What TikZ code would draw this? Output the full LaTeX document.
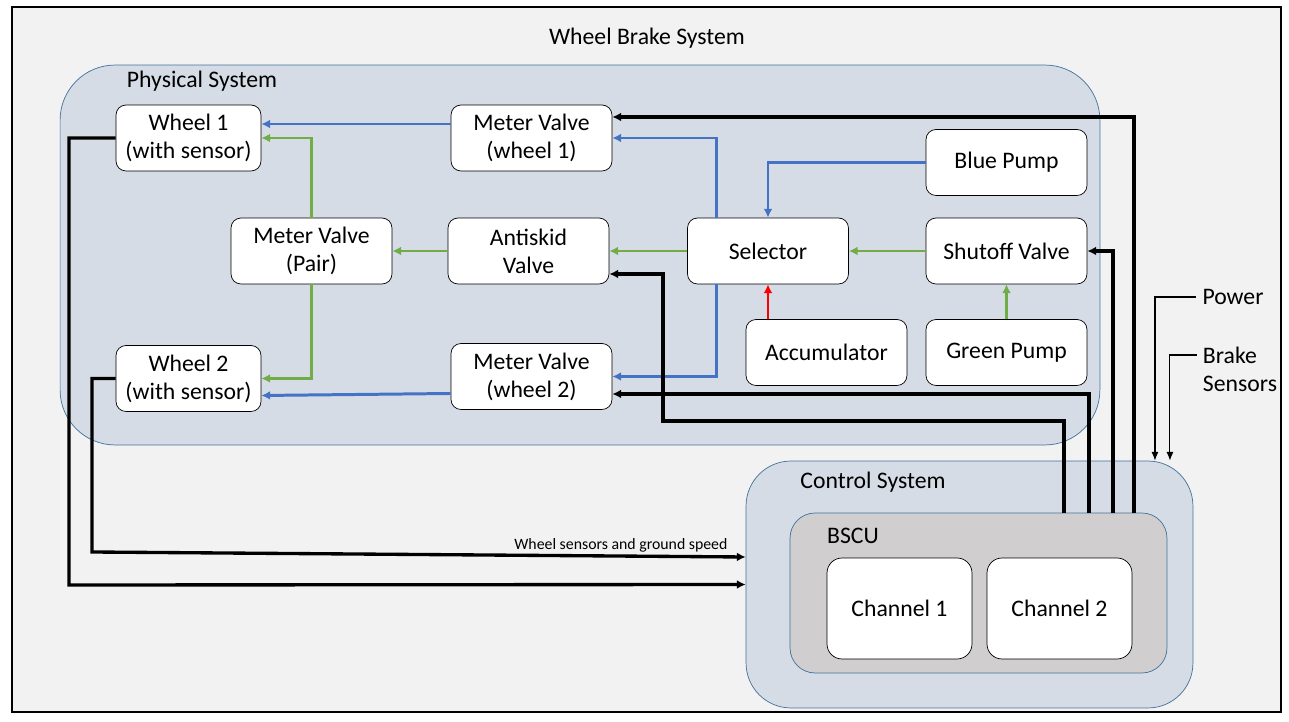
\documentclass[tikz,border=0pt]{standalone}
\usepackage{fontspec}
\setmainfont{Carlito}
\usetikzlibrary{arrows.meta}
\definecolor{hydblue}{HTML}{4472C4}
\definecolor{hydgreen}{HTML}{70AD47}
\definecolor{hydred}{HTML}{FF0000}
\definecolor{sysfill}{HTML}{D6DCE5}
\definecolor{sysedge}{HTML}{41719C}
\definecolor{bscufill}{HTML}{D0CECE}
\definecolor{framefill}{HTML}{F2F2F2}
\begin{document}
\begin{tikzpicture}[x=0.02cm, y=-0.02cm,
    font=\fontsize{13.5}{16}\selectfont,
    unit/.style={draw, fill=white, rounded corners=0.2cm, align=center,
        minimum width=3.22cm, minimum height=1.32cm, inner sep=2pt},
    wheelbox/.style={unit, minimum width=2.9cm},
    chanbox/.style={unit, minimum width=2.9cm, minimum height=2.02cm, rounded corners=0.3cm},
    sysbox/.style={draw=sysedge, fill=sysfill, inner sep=0pt},
    tip/.style={-{Latex[length=5pt,width=5pt]}},
    blueline/.style={draw=hydblue, line width=1.7pt, tip},
    greenline/.style={draw=hydgreen, line width=1.7pt, tip},
    redline/.style={draw=hydred, line width=1.7pt, tip},
    ctrlline/.style={draw=black, line width=1.9pt, tip},
    inputline/.style={draw=black, line width=0.6pt, -{Latex[length=5pt,width=4pt]}}]
    \useasboundingbox (0,0) rectangle (1289,722);
    \draw[fill=framefill, line width=0.6pt] (12,7) rectangle (1281,712);
    \node (title) at (647,38) {Wheel Brake System};

    \node[sysbox, rounded corners=1.1cm, minimum width=20.8cm, minimum height=7.6cm] (phys) at (580,255) {};
    \node (physlbl) at (202,81) {Physical System};
    \node[sysbox, rounded corners=0.9cm, minimum width=8.94cm, minimum height=4.94cm] (ctrl) at (969.5,584.5) {};
    \node (ctrllbl) at (873,482) {Control System};
    \node[sysbox, fill=bscufill, rounded corners=0.5cm, minimum width=7.54cm, minimum height=3.2cm] (bscu) at (978.5,593) {};
    \node (bsculbl) at (853,536) {BSCU};
    \node[chanbox] (chA) at (899.5,608.5) {Channel 1};
    \node[chanbox] (chB) at (1059.5,608.5) {Channel 2};

    \node[wheelbox] (wheelA) at (188.5,138) {Wheel 1\\(with sensor)};
    \node[wheelbox] (wheelB) at (188.5,378.5) {Wheel 2\\(with sensor)};
    \node[unit] (mvA) at (531.5,138) {Meter Valve\\(wheel 1)};
    \node[unit] (mvB) at (531.5,376.5) {Meter Valve\\(wheel 2)};
    \node[unit] (mvPair) at (311.5,251) {Meter Valve\\(Pair)};
    \node[unit] (antiskid) at (528.5,251) {Antiskid\\Valve};
    \node[unit] (selector) at (768,251) {Selector};
    \node[unit] (shutoff) at (1006.5,251) {Shutoff Valve};
    \node[unit] (bluepump) at (1006.5,162.5) {Blue Pump};
    \node[unit] (greenpump) at (1006.5,352.5) {Green Pump};
    \node[unit] (accu) at (826.5,352.5) {Accumulator};

    \draw[blueline] ([yshift=0.28cm]mvA.west) -- ([yshift=0.28cm]wheelA.east);
    \draw[blueline] ([yshift=-0.34cm]mvB.west) -- ([yshift=-0.34cm]wheelB.east);
    \draw[blueline] ([xshift=-1.04cm]selector.north) |- (mvA.east);
    \draw[blueline] ([xshift=-1.04cm]selector.south) |- (mvB.east);
    \draw[blueline] (bluepump.west) -| (selector.north);

    \draw[greenline] (shutoff.west) -- (selector.east);
    \draw[greenline] (greenpump.north) -- (shutoff.south);
    \draw[greenline] (selector.west) -- (antiskid.east);
    \draw[greenline] (antiskid.west) -- (mvPair.east);
    \draw[greenline] (mvPair.north) |- (wheelA.east);
    \draw[greenline] (mvPair.south) |- (wheelB.east);
    \draw[redline] (accu.north -| selector) -- (selector.south);

    \coordinate (askbend) at (663,421);
    \draw[ctrlline] ([xshift=3.11cm]bscu.north) |- ([yshift=0.42cm]mvA.east);
    \draw[ctrlline] ([xshift=2.69cm]bscu.north) |- (shutoff.east);
    \draw[ctrlline] ([xshift=2.21cm]bscu.north) |- ([yshift=-0.35cm]mvB.east);
    \draw[ctrlline] ([xshift=1.71cm]bscu.north) |- (askbend) |- ([yshift=-0.46cm]antiskid.east);

    \coordinate (sensA) at (69,585);
    \coordinate (sensB) at (92,552);
    \draw[ctrlline] (wheelA.west) -| (sensA) -- (ctrl.west);
    \draw[ctrlline] (wheelB.west) -| (sensB) -- ([yshift=0.55cm]ctrl.west)
        node[pos=0.98, anchor=south east, inner sep=2pt, font=\fontsize{9}{10}\selectfont] {Wheel sensors and ground speed};

    \node (power) at (1233,297) {Power};
    \node[align=left] (brake) at (1240,369) {Brake\\Sensors};
    \draw[inputline] (power.west) -| ([xshift=3.71cm]ctrl.north);
    \draw[inputline] ([yshift=0.28cm]brake.west) -| ([xshift=4.01cm]ctrl.north);
\end{tikzpicture}
\end{document}
